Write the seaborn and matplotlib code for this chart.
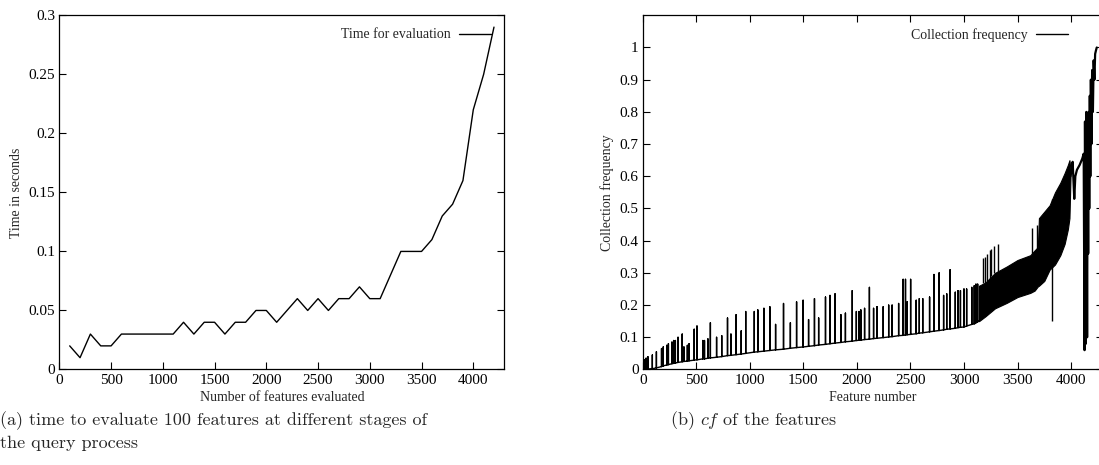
import numpy as np
import pandas as pd
import matplotlib
matplotlib.use("Agg")
import matplotlib.pyplot as plt
import seaborn as sns

# ---------------- data: left panel ----------------
eval_features = [100, 200, 300, 400, 500, 600, 700, 800, 900, 1000, 1100, 1200, 1300, 1400,
                 1500, 1600, 1700, 1800, 1900, 2000, 2100, 2200, 2300, 2400, 2500, 2600, 2700,
                 2800, 2900, 3000, 3100, 3200, 3300, 3400, 3500, 3600, 3700, 3800, 3900, 4000,
                 4100, 4200]
eval_time = [0.02, 0.01, 0.03, 0.02, 0.02, 0.03, 0.03, 0.03, 0.03, 0.03, 0.03, 0.04, 0.03, 0.04,
             0.04, 0.03, 0.04, 0.04, 0.05, 0.05, 0.04, 0.05, 0.06, 0.05, 0.06, 0.05, 0.06,
             0.06, 0.07, 0.06, 0.06, 0.08, 0.10, 0.10, 0.10, 0.11, 0.13, 0.14, 0.16, 0.22,
             0.25, 0.29]
left_xticks = [0, 500, 1000, 1500, 2000, 2500, 3000, 3500, 4000]
left_yticks = [0, 0.05, 0.1, 0.15, 0.2, 0.25, 0.3]
left_yticklabels = ["0", "0.05", "0.1", "0.15", "0.2", "0.25", "0.3"]

# ---------------- data: right panel ----------------
# sorted baseline of the sparse part
base_x = [0, 100, 200, 300, 500, 1000, 1500, 2000, 2500, 3000, 3100, 3140]
base_y = [0.0, 0.003, 0.012, 0.02, 0.03, 0.052, 0.07, 0.09, 0.109, 0.132, 0.142, 0.15]
# isolated spikes: position, foot, top
spike_x = [16, 32, 48, 90, 128, 176, 192, 225, 240, 273, 289, 305, 330, 369, 385, 417, 433,
           481, 507, 561, 577, 609, 632, 690, 738, 792, 824, 872, 920, 962, 1042, 1075, 1132,
           1187, 1241, 1315, 1379, 1437, 1498, 1549, 1604, 1643, 1707, 1749, 1796, 1851, 1893,
           1957, 1995, 2021, 2037, 2072, 2117, 2156, 2188, 2246, 2297, 2329, 2390, 2432, 2454,
           2470, 2502, 2554, 2583, 2615, 2679, 2720, 2768, 2810, 2839, 2871, 2919, 2945, 2967,
           3000, 3025, 3073, 3096, 3112, 3128]
spike_base = [0.0, 0.001, 0.001, 0.003, 0.005, 0.009, 0.011, 0.014, 0.015, 0.018, 0.019, 0.02,
              0.022, 0.024, 0.025, 0.026, 0.027, 0.029, 0.03, 0.033, 0.033, 0.035, 0.036, 0.038,
              0.04, 0.043, 0.044, 0.046, 0.048, 0.05, 0.054, 0.055, 0.057, 0.059, 0.061, 0.063,
              0.066, 0.068, 0.07, 0.072, 0.074, 0.076, 0.078, 0.08, 0.082, 0.084, 0.086, 0.088,
              0.09, 0.091, 0.091, 0.093, 0.094, 0.096, 0.097, 0.099, 0.101, 0.102, 0.105, 0.106,
              0.107, 0.108, 0.109, 0.111, 0.113, 0.114, 0.117, 0.119, 0.121, 0.123, 0.125, 0.126,
              0.128, 0.13, 0.131, 0.132, 0.135, 0.14, 0.142, 0.145, 0.148]
spike_top = [0.03, 0.035, 0.04, 0.045, 0.055, 0.065, 0.07, 0.075, 0.08, 0.085, 0.09, 0.09, 0.10,
             0.11, 0.07, 0.075, 0.08, 0.125, 0.135, 0.09, 0.09, 0.095, 0.145, 0.10, 0.105, 0.16,
             0.11, 0.17, 0.12, 0.18, 0.18, 0.185, 0.19, 0.195, 0.14, 0.205, 0.145, 0.21, 0.215,
             0.155, 0.22, 0.16, 0.225, 0.23, 0.235, 0.17, 0.175, 0.245, 0.18, 0.18, 0.185, 0.19,
             0.255, 0.19, 0.195, 0.195, 0.20, 0.20, 0.205, 0.28, 0.28, 0.21, 0.28, 0.215, 0.22,
             0.22, 0.225, 0.295, 0.30, 0.23, 0.235, 0.31, 0.24, 0.245, 0.245, 0.25, 0.25, 0.255,
             0.26, 0.265, 0.265]
# dense band (features alternate quickly between the two envelopes)
band_x = [3140, 3200, 3290, 3400, 3500, 3620, 3660, 3690, 3700, 3750, 3800, 3850, 3900, 3940,
          3970, 3985, 3995]
band_lo = [0.15, 0.165, 0.19, 0.207, 0.225, 0.238, 0.245, 0.258, 0.26, 0.275, 0.31, 0.326,
           0.355, 0.39, 0.435, 0.47, 0.60]
band_hi = [0.26, 0.27, 0.30, 0.32, 0.34, 0.355, 0.37, 0.38, 0.47, 0.49, 0.51, 0.55, 0.58, 0.61,
           0.635, 0.65, 0.62]
band_spike_x = [3176, 3195, 3215, 3240, 3252, 3285, 3315, 3640, 3682, 3824]
band_spike_lo = [0.27, 0.27, 0.275, 0.28, 0.29, 0.30, 0.30, 0.36, 0.37, 0.15]
band_spike_hi = [0.345, 0.35, 0.36, 0.37, 0.375, 0.385, 0.39, 0.44, 0.45, 0.53]
# final, most frequent features
tail_x = [3995, 4005, 4015, 4030, 4040, 4055, 4080, 4105, 4118, 4126, 4130, 4138, 4143, 4150,
          4155, 4160, 4165, 4170, 4175, 4180, 4185, 4190, 4197, 4204, 4211, 4218, 4225, 4232,
          4240]
tail_y = [0.60, 0.62, 0.645, 0.53, 0.60, 0.62, 0.635, 0.655, 0.67, 0.06, 0.77, 0.08, 0.80, 0.10,
          0.72, 0.36, 0.80, 0.50, 0.85, 0.60, 0.90, 0.70, 0.93, 0.80, 0.96, 0.90, 0.98, 0.99,
          1.0]
right_xticks = [0, 500, 1000, 1500, 2000, 2500, 3000, 3500, 4000]
right_yticks = [0, 0.1, 0.2, 0.3, 0.4, 0.5, 0.6, 0.7, 0.8, 0.9, 1.0]
right_yticklabels = ["0", "0.1", "0.2", "0.3", "0.4", "0.5", "0.6", "0.7", "0.8", "0.9", "1"]

# ---------------- style ----------------
sns.set_style("ticks")
plt.rcParams["font.family"] = ["Liberation Serif", "DejaVu Serif"]
plt.rcParams["mathtext.fontset"] = "cm"
TICK_FS = 11
FS = 10

fig = plt.figure(figsize=(10.99, 4.65), dpi=100)
ax1 = fig.add_axes([0.0540, 0.2054, 0.4049, 0.7617])
ax2 = fig.add_axes([0.5848, 0.2054, 0.4190, 0.7617])

def gnuplot_axes(ax, top_ticks=True):
    for s in ax.spines.values():
        s.set_linewidth(0.9)
        s.set_color("black")
    ax.tick_params(direction="in", length=5, width=0.8, top=top_ticks, right=True,
                   labelsize=TICK_FS, pad=3, colors="black")

# ---- left panel ----
df1 = pd.DataFrame({"features": eval_features, "time": eval_time})
sns.lineplot(data=df1, x="features", y="time", ax=ax1, color="black", lw=1.0,
             label="Time for evaluation")
ax1.set_xlim(0, 4300)
ax1.set_ylim(0, 0.3)
ax1.set_xticks(left_xticks)
ax1.set_yticks(left_yticks)
ax1.set_yticklabels(left_yticklabels)
ax1.set_xlabel("Number of features evaluated", fontsize=FS, labelpad=3)
ax1.set_ylabel("Time in seconds", fontsize=FS, labelpad=4)
gnuplot_axes(ax1, top_ticks=False)
ax1.legend(loc="upper right", frameon=False, markerfirst=False, fontsize=FS,
           handlelength=2.3, borderaxespad=0.55, handletextpad=0.6)

# ---- right panel ----
# sparse part: baseline with spikes, as one polyline
px, py = [], []
for x, y in zip(base_x, base_y):
    px.append(x); py.append(y)
for x, b, t in zip(spike_x, spike_base, spike_top):
    px += [x, x, x]; py += [b, t, b]
pts = sorted(range(len(px)), key=lambda i: (px[i], i))
sparse = pd.DataFrame({"feature": [px[i] for i in pts], "cf": [py[i] for i in pts]})
sns.lineplot(data=sparse, x="feature", y="cf", ax=ax2, color="black", lw=1.0,
             sort=False, estimator=None, label="Collection frequency")
ax2.fill_between(band_x, band_lo, band_hi, color="black", lw=0.8, edgecolor="black")
ax2.vlines(band_spike_x, band_spike_lo, band_spike_hi, color="black", lw=1.0)
tail = pd.DataFrame({"feature": tail_x, "cf": tail_y})
sns.lineplot(data=tail, x="feature", y="cf", ax=ax2, color="black", lw=1.6,
             sort=False, estimator=None)
ax2.set_xlim(0, 4300)
ax2.set_ylim(0, 1.1)
ax2.set_xticks(right_xticks)
ax2.set_yticks(right_yticks)
ax2.set_yticklabels(right_yticklabels)
ax2.set_xlabel("Feature number", fontsize=FS, labelpad=3)
ax2.set_ylabel("Collection frequency", fontsize=FS, labelpad=4)
gnuplot_axes(ax2, top_ticks=True)
h, l = ax2.get_legend_handles_labels()
ax2.legend(h[:1], l[:1], loc="upper right", bbox_to_anchor=(0.945, 0.99), frameon=False,
           markerfirst=False, fontsize=FS, handlelength=2.3, handletextpad=0.6,
           borderaxespad=0.3)

# ---- captions ----
CAP = 13
fig.text(0.0, 1 - 421 / 465, "(a) time to evaluate 100 features at different stages of",
         family="cmr10", fontsize=CAP, va="center", ha="left")
fig.text(0.0, 1 - 443 / 465, "the query process",
         family="cmr10", fontsize=CAP, va="center", ha="left")
fig.text(0.61, 1 - 421 / 465, r"(b) $cf$ of the features",
         family="cmr10", fontsize=CAP, va="center", ha="left")

fig.savefig("out.png", dpi=100)
